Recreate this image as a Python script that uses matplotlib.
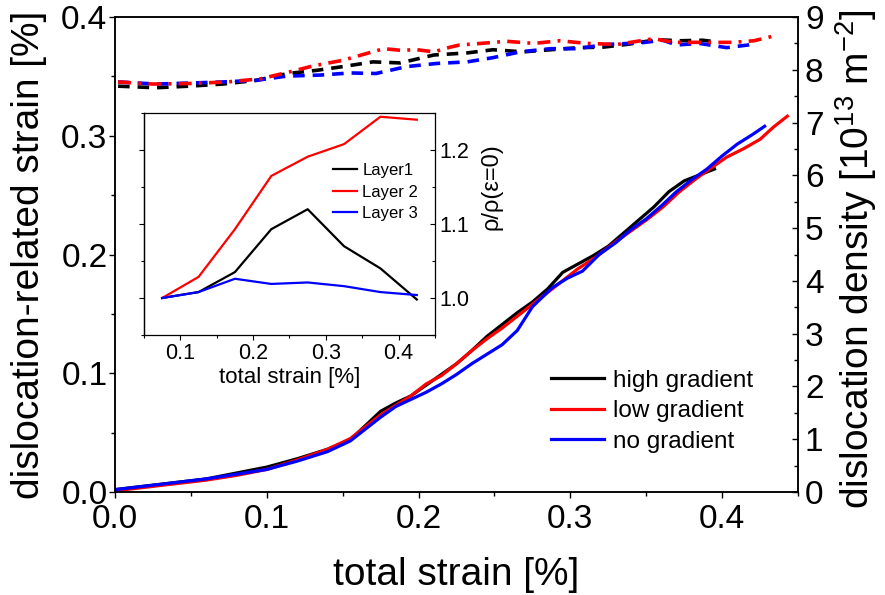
import matplotlib
matplotlib.use("Agg")
import matplotlib.pyplot as plt
from matplotlib.ticker import MultipleLocator

plt.rcParams['font.family'] = ['Liberation Sans', 'DejaVu Sans']
plt.rcParams['mathtext.fontset'] = 'custom'
plt.rcParams['mathtext.rm'] = 'Liberation Sans'
plt.rcParams['mathtext.it'] = 'Liberation Sans:italic'

# dislocation-related strain (left axis) vs total strain
high_x = [0, 0.02, 0.04, 0.06, 0.08, 0.10, 0.12, 0.14, 0.155, 0.165, 0.175, 0.185,
          0.195, 0.205, 0.215, 0.225, 0.235, 0.245, 0.255, 0.265, 0.275, 0.285, 0.295,
          0.305, 0.315, 0.325, 0.335, 0.345, 0.355, 0.365, 0.375, 0.385, 0.395]
high_y = [0.002, 0.005, 0.008, 0.011, 0.016, 0.021, 0.028, 0.036, 0.044, 0.056, 0.068, 0.075,
          0.081, 0.090, 0.099, 0.108, 0.119, 0.131, 0.141, 0.151, 0.160, 0.171, 0.185,
          0.192, 0.199, 0.207, 0.218, 0.229, 0.240, 0.253, 0.262, 0.267, 0.272]

low_x = [0, 0.02, 0.04, 0.06, 0.08, 0.10, 0.12, 0.14, 0.155, 0.165, 0.175, 0.185,
         0.195, 0.205, 0.215, 0.225, 0.235, 0.245, 0.255, 0.265, 0.275, 0.285, 0.295,
         0.305, 0.317, 0.328, 0.339, 0.350, 0.361, 0.372, 0.383, 0.394, 0.403, 0.414,
         0.425, 0.434, 0.443]
low_y = [0.001, 0.004, 0.007, 0.010, 0.014, 0.019, 0.027, 0.036, 0.045, 0.055, 0.065, 0.073,
         0.081, 0.091, 0.098, 0.108, 0.119, 0.129, 0.138, 0.148, 0.158, 0.168, 0.178,
         0.188, 0.198, 0.209, 0.219, 0.229, 0.240, 0.253, 0.264, 0.274, 0.282, 0.289,
         0.297, 0.3075, 0.3165]

no_x = [0, 0.02, 0.04, 0.06, 0.08, 0.10, 0.12, 0.14, 0.155, 0.165, 0.175, 0.185,
        0.195, 0.205, 0.215, 0.225, 0.235, 0.245, 0.255, 0.265, 0.275, 0.288, 0.298,
        0.308, 0.319, 0.33, 0.34, 0.35, 0.36, 0.37, 0.38, 0.39, 0.40, 0.41, 0.42, 0.428]
no_y = [0.002, 0.005, 0.008, 0.011, 0.015, 0.019, 0.026, 0.034, 0.043, 0.053, 0.063, 0.072,
        0.078, 0.084, 0.091, 0.099, 0.108, 0.116, 0.124, 0.136, 0.156, 0.172, 0.180,
        0.186, 0.200, 0.210, 0.221, 0.230, 0.241, 0.253, 0.263, 0.272, 0.283, 0.293,
        0.301, 0.308]

# dislocation density (right axis, 10^13 m^-2)
rho_high_x = [0.002, 0.027, 0.049, 0.071, 0.093, 0.114, 0.133, 0.150, 0.170, 0.188, 0.210,
              0.232, 0.249, 0.269, 0.287, 0.306, 0.322, 0.337, 0.357, 0.372, 0.387, 0.393]
rho_high = [7.69, 7.66, 7.69, 7.73, 7.80, 7.93, 7.99, 8.06, 8.15, 8.13, 8.28,
            8.32, 8.38, 8.34, 8.38, 8.42, 8.43, 8.48, 8.57, 8.55, 8.56, 8.54]

rho_low_x = [0.002, 0.025, 0.049, 0.074, 0.096, 0.115, 0.130, 0.150, 0.177, 0.188, 0.199,
             0.210, 0.221, 0.227, 0.241, 0.258, 0.276, 0.293, 0.311, 0.331, 0.355, 0.368,
             0.390, 0.407, 0.421, 0.437]
rho_low = [7.77, 7.73, 7.74, 7.77, 7.83, 7.96, 8.07, 8.18, 8.40, 8.37, 8.38,
           8.34, 8.43, 8.47, 8.50, 8.54, 8.50, 8.55, 8.50, 8.48, 8.59, 8.52,
           8.52, 8.52, 8.55, 8.66]

rho_no_x = [0.002, 0.027, 0.051, 0.071, 0.093, 0.113, 0.135, 0.155, 0.172, 0.192, 0.212,
            0.232, 0.249, 0.267, 0.287, 0.304, 0.324, 0.346, 0.361, 0.370, 0.385, 0.403, 0.420]
rho_no = [7.77, 7.73, 7.75, 7.77, 7.80, 7.88, 7.90, 7.94, 7.93, 8.06, 8.12,
          8.15, 8.23, 8.34, 8.40, 8.40, 8.48, 8.51, 8.56, 8.47, 8.50, 8.42, 8.48]

# inset: rho / rho(eps=0) per layer
layer_x = [0.075, 0.125, 0.175, 0.225, 0.275, 0.325, 0.375, 0.425]
layer1 = [1.0, 1.008, 1.035, 1.093, 1.120, 1.070, 1.040, 0.998]
layer2 = [1.0, 1.0285, 1.093, 1.165, 1.191, 1.208, 1.245, 1.241]
layer3 = [1.0, 1.008, 1.026, 1.019, 1.021, 1.016, 1.008, 1.004]

fig = plt.figure(figsize=(8.85, 5.95), dpi=100)
ax = fig.add_axes([0.130, 0.1731, 0.7717, 0.7983])
ax2 = ax.twinx()

lw = 2.3
ax.plot(high_x, high_y, color='black', lw=lw, label='high gradient')
ax.plot(low_x, low_y, color='red', lw=lw, label='low gradient')
ax.plot(no_x, no_y, color='blue', lw=lw, label='no gradient')

ax2.plot(rho_high_x, rho_high, color='black', lw=2.6, dashes=(3.2, 2.2))
ax2.plot(rho_no_x, rho_no, color='blue', lw=2.6, dashes=(3.2, 2.2))
ax2.plot(rho_low_x, rho_low, color='red', lw=2.6, dashes=(3.6, 2.0, 0.8, 2.0))

ax.set_xlim(0, 0.45)
ax.set_ylim(0, 0.4)
ax2.set_ylim(0, 9)

ax.xaxis.set_major_locator(MultipleLocator(0.1))
ax.xaxis.set_minor_locator(MultipleLocator(0.05))
ax.yaxis.set_major_locator(MultipleLocator(0.1))
ax.yaxis.set_minor_locator(MultipleLocator(0.05))
ax2.yaxis.set_major_locator(MultipleLocator(1))
ax2.yaxis.set_minor_locator(MultipleLocator(0.5))
ax.xaxis.set_major_formatter(plt.FormatStrFormatter('%.1f'))
ax.yaxis.set_major_formatter(plt.FormatStrFormatter('%.1f'))

for a in (ax, ax2):
    for s in a.spines.values():
        s.set_linewidth(1.1)

ax.tick_params(axis='both', which='major', direction='out', length=4.5, width=1.0,
               labelsize=24, pad=1)
ax.tick_params(axis='both', which='minor', direction='out', length=3, width=1.0)
ax.tick_params(axis='x', which='major', pad=4)
ax2.tick_params(axis='y', which='major', direction='in', length=4.5, width=1.0,
                labelsize=24, pad=5)
ax2.tick_params(axis='y', which='minor', direction='in', length=3, width=1.0)

ax.set_xlabel('total strain [%]', fontsize=28)
ax.set_ylabel('dislocation-related strain [%]', fontsize=28)
ax2.set_ylabel('dislocation density [10$^{13}$ m$^{-2}$]', fontsize=28)
ax.xaxis.set_label_coords(0.5, -0.137)
ax.yaxis.set_label_coords(-0.10, 0.5)
ax2.yaxis.set_label_coords(1.052, 0.49)

ax.legend(loc='upper left', bbox_to_anchor=(0.638, 0.257), frameon=False, fontsize=17.5,
          handlelength=2.2, handletextpad=0.35, labelspacing=0.34, borderpad=0,
          borderaxespad=0)

# inset
ins = fig.add_axes([0.1627, 0.437, 0.3288, 0.373])
ins.plot(layer_x, layer1, color='black', lw=1.6, label='Layer1')
ins.plot(layer_x, layer2, color='red', lw=1.6, label='Layer 2')
ins.plot(layer_x, layer3, color='blue', lw=1.6, label='Layer 3')
ins.set_xlim(0.05, 0.45)
ins.set_ylim(0.95, 1.25)
ins.xaxis.set_major_locator(MultipleLocator(0.1))
ins.xaxis.set_minor_locator(MultipleLocator(0.05))
ins.yaxis.set_major_locator(MultipleLocator(0.1))
ins.yaxis.set_minor_locator(MultipleLocator(0.05))
ins.xaxis.set_major_formatter(plt.FormatStrFormatter('%.1f'))
ins.yaxis.set_major_formatter(plt.FormatStrFormatter('%.1f'))
ins.yaxis.tick_right()
ins.tick_params(axis='both', which='both', labelsize=15.5, width=0.8)
ins.tick_params(axis='x', which='major', direction='out', length=3.5, pad=2)
ins.tick_params(axis='x', which='minor', direction='out', length=2)
ins.tick_params(axis='y', which='major', direction='in', length=3.5, pad=3)
ins.tick_params(axis='y', which='minor', direction='in', length=2)
for s in ins.spines.values():
    s.set_linewidth(0.9)

# outward ticks on the inset's left spine, no labels
ins_left = ins.secondary_yaxis('left')
ins_left.yaxis.set_major_locator(MultipleLocator(0.1))
ins_left.yaxis.set_minor_locator(MultipleLocator(0.05))
ins_left.tick_params(axis='y', which='major', direction='out', length=3.5, width=0.8,
                     labelleft=False)
ins_left.tick_params(axis='y', which='minor', direction='out', length=2, width=0.8)
ins_left.spines['left'].set_linewidth(0.9)

ins.set_xlabel('total strain [%]', fontsize=16)
ins.xaxis.set_label_coords(0.5, -0.145)
ins.yaxis.set_label_position('right')
ins.set_ylabel('ρ/ρ(ε=0)', fontsize=17)
ins.yaxis.set_label_coords(1.155, 0.67)
ins.legend(loc='upper left', bbox_to_anchor=(0.65, 0.775), frameon=False, fontsize=12,
           handlelength=1.45, handletextpad=0.3, labelspacing=0.4, borderpad=0,
           borderaxespad=0)

fig.savefig('out.png', dpi=100)
